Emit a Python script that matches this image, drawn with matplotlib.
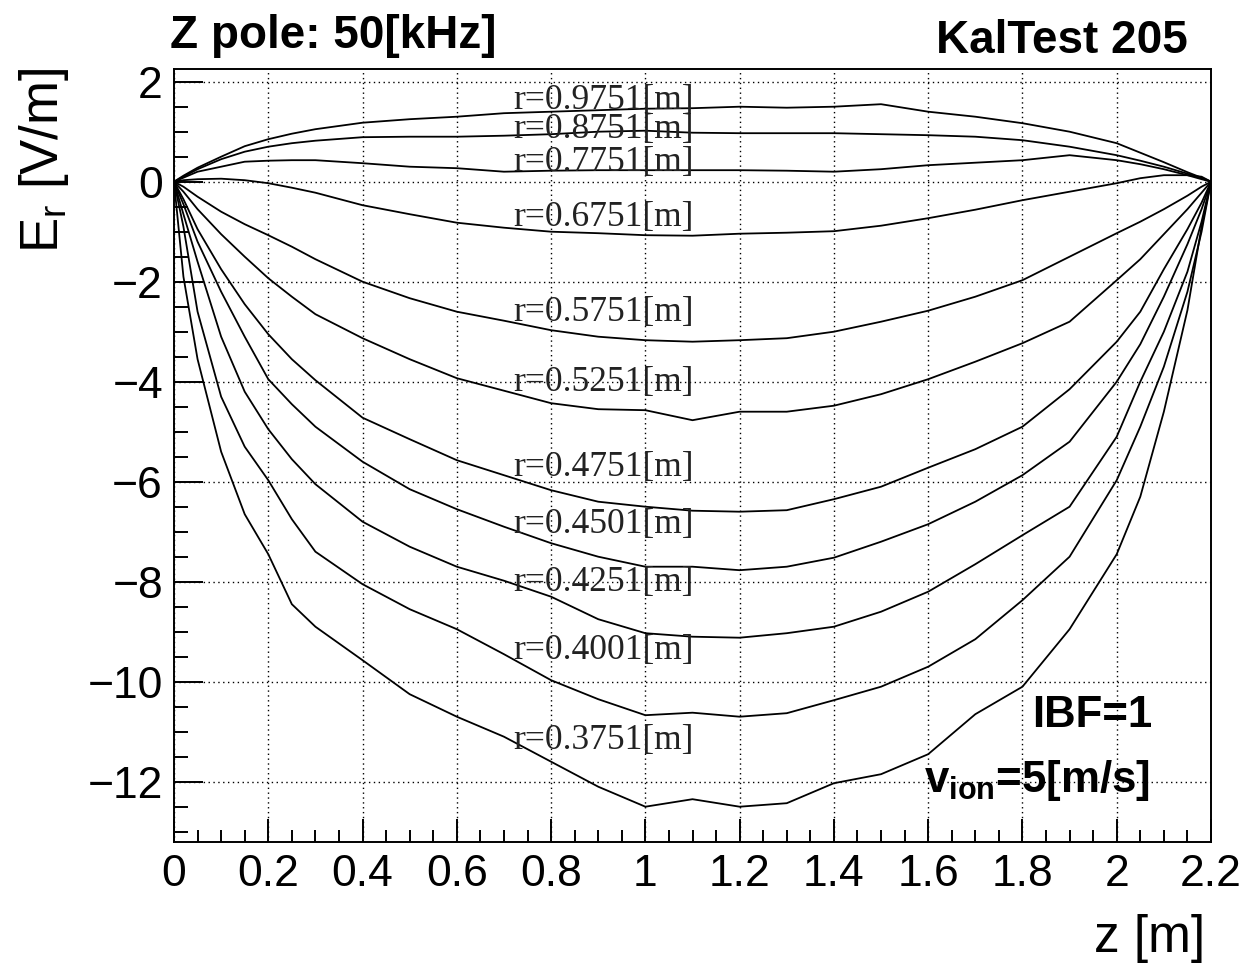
#!/usr/bin/env python3
"""
plot.py
Radial field E_r vs z for several radii (Z pole 50 kHz, IBF=1, v_ion=5 m/s).
Writes out.png
"""

import matplotlib
matplotlib.use('Agg')
import matplotlib.pyplot as plt
from matplotlib.ticker import MultipleLocator

plt.rcParams['font.family'] = ['Liberation Sans', 'DejaVu Sans']
plt.rcParams['mathtext.fontset'] = 'custom'
plt.rcParams['mathtext.rm'] = 'Liberation Sans'
plt.rcParams['mathtext.bf'] = 'Liberation Sans:bold'

z = [0, 0.02, 0.05, 0.1, 0.15, 0.2, 0.25, 0.3, 0.4, 0.5, 0.6, 0.7, 0.8, 0.9, 1.0,
     1.1, 1.2, 1.3, 1.4, 1.5, 1.6, 1.7, 1.8, 1.9, 2.0, 2.05, 2.1, 2.15, 2.18, 2.2]

# E_r [V/m] for each radius
er_09751 = [0, 0.12, 0.28, 0.5, 0.71, 0.85, 0.96, 1.05, 1.18, 1.25, 1.3, 1.37, 1.4, 1.43, 1.46,
            1.47, 1.5, 1.48, 1.5, 1.55, 1.4, 1.3, 1.17, 1.0, 0.77, 0.58, 0.39, 0.19, 0.08, 0]
er_08751 = [0, 0.1, 0.25, 0.45, 0.6, 0.7, 0.77, 0.82, 0.89, 0.9, 0.9, 0.92, 0.95, 1.0, 1.02,
            0.98, 0.97, 0.97, 0.97, 0.95, 0.93, 0.9, 0.83, 0.7, 0.53, 0.42, 0.3, 0.16, 0.07, 0]
er_07751 = [0, 0.08, 0.2, 0.3, 0.4, 0.42, 0.43, 0.43, 0.37, 0.3, 0.27, 0.2, 0.22, 0.23, 0.23,
            0.23, 0.23, 0.22, 0.2, 0.25, 0.33, 0.38, 0.43, 0.53, 0.43, 0.35, 0.25, 0.13, 0.05, 0]
er_06751 = [0, 0.03, 0.05, 0.06, 0.03, -0.03, -0.12, -0.22, -0.47, -0.65, -0.82, -0.92, -1.0, -1.03, -1.07,
            -1.08, -1.04, -1.02, -0.99, -0.88, -0.73, -0.56, -0.37, -0.2, -0.03, 0.07, 0.13, 0.13, 0.1, 0]
er_05751 = [0, -0.1, -0.3, -0.6, -0.85, -1.07, -1.3, -1.55, -2.0, -2.33, -2.6, -2.78, -2.97, -3.1, -3.17,
            -3.2, -3.17, -3.13, -3.0, -2.8, -2.58, -2.3, -1.97, -1.5, -1.03, -0.8, -0.55, -0.28, -0.1, 0]
er_05251 = [0, -0.2, -0.55, -1.05, -1.5, -1.93, -2.3, -2.65, -3.13, -3.55, -3.93, -4.18, -4.43, -4.55, -4.57,
            -4.77, -4.6, -4.6, -4.48, -4.25, -3.95, -3.6, -3.23, -2.8, -1.97, -1.55, -1.05, -0.55, -0.22, 0]
er_04751 = [0, -0.35, -0.95, -1.75, -2.45, -3.05, -3.55, -3.97, -4.72, -5.15, -5.57, -5.87, -6.17, -6.4, -6.5,
            -6.58, -6.6, -6.57, -6.35, -6.1, -5.72, -5.35, -4.9, -4.15, -3.2, -2.6, -1.75, -0.95, -0.42, 0]
er_04501 = [0, -0.45, -1.2, -2.2, -3.1, -3.95, -4.45, -4.9, -5.6, -6.15, -6.55, -6.9, -7.23, -7.5, -7.7,
            -7.7, -7.77, -7.7, -7.52, -7.2, -6.85, -6.4, -5.87, -5.2, -4.0, -3.25, -2.3, -1.25, -0.55, 0]
er_04251 = [0, -0.65, -1.6, -3.1, -4.2, -4.95, -5.55, -6.05, -6.8, -7.3, -7.7, -7.98, -8.3, -8.75, -9.03,
            -9.1, -9.12, -9.03, -8.9, -8.6, -8.2, -7.65, -7.07, -6.5, -5.1, -4.0, -3.0, -1.8, -0.8, 0]
er_04001 = [0, -0.9, -2.6, -4.3, -5.3, -5.97, -6.75, -7.4, -8.05, -8.55, -8.95, -9.45, -9.97, -10.35, -10.67,
            -10.62, -10.7, -10.63, -10.37, -10.1, -9.7, -9.15, -8.37, -7.5, -5.97, -4.9, -3.7, -2.2, -1.0, 0]
er_03751 = [0, -1.9, -3.55, -5.4, -6.65, -7.45, -8.45, -8.9, -9.57, -10.25, -10.7, -11.1, -11.6, -12.1, -12.5,
            -12.35, -12.5, -12.43, -12.03, -11.85, -11.45, -10.65, -10.1, -8.95, -7.45, -6.3, -4.6, -2.57, -0.9, 0]

radii = ['0.9751', '0.8751', '0.7751', '0.6751', '0.5751', '0.5251',
         '0.4751', '0.4501', '0.4251', '0.4001', '0.3751']
curves = [er_09751, er_08751, er_07751, er_06751, er_05751, er_05251,
          er_04751, er_04501, er_04251, er_04001, er_03751]
# vertical position of each "r=..." label [V/m]
label_y = [1.62, 1.04, 0.38, -0.72, -2.62, -4.02, -5.72, -6.85, -8.02, -9.38, -11.18]
label_z = 0.72


def main():
    fig = plt.figure(figsize=(12.44, 9.63), dpi=100)
    ax = fig.add_axes([174/1244, (963-841.7)/963, (1211-174)/1244, (841.7-69.3)/963])

    for er in curves:
        ax.plot(z, er, color='black', lw=1.3)

    for r, yl in zip(radii, label_y):
        ax.text(label_z, yl, 'r=%s[m]' % r, family='Liberation Serif', fontsize=25.5,
                ha='left', va='center', color='#222222')

    ax.set_xlim(0, 2.2)
    ax.set_ylim(-13.2, 2.248)
    ax.xaxis.set_major_locator(MultipleLocator(0.2))
    ax.xaxis.set_minor_locator(MultipleLocator(0.05))
    ax.yaxis.set_major_locator(MultipleLocator(2))
    ax.yaxis.set_minor_locator(MultipleLocator(0.5))
    ax.set_xticks([0, 0.2, 0.4, 0.6, 0.8, 1, 1.2, 1.4, 1.6, 1.8, 2, 2.2])
    ax.set_xticklabels(['0', '0.2', '0.4', '0.6', '0.8', '1', '1.2', '1.4', '1.6', '1.8', '2', '2.2'])
    ax.grid(True, which='major', color='black', linestyle=(0, (1, 2.5)), lw=1.0)

    ax.tick_params(which='both', direction='in', top=False, right=False, width=1.4, labelsize=32)
    ax.tick_params(axis='y', which='major', length=21, pad=8)
    ax.tick_params(axis='y', which='minor', length=10)
    ax.tick_params(axis='x', which='major', length=16.5, pad=9)
    ax.tick_params(axis='x', which='minor', length=9)
    for s in ax.spines.values():
        s.set_linewidth(1.4)

    ax.text(2.076, -10.9, 'IBF=1', fontsize=31.5, fontweight='bold', ha='right', va='baseline')
    ax.text(2.07, -12.2, r'$\mathbf{v}_{\mathbf{ion}}$=5[m/s]', fontsize=31.5, fontweight='bold',
            ha='right', va='baseline')

    fig.text(170/1244, 1 - 48/963, 'Z pole: 50[kHz]', fontsize=33, fontweight='bold',
             ha='left', va='baseline')
    fig.text(1188/1244, 1 - 53/963, 'KalTest 205', fontsize=33, fontweight='bold',
             ha='right', va='baseline')
    fig.text(44/1244, 1 - 68/963, r'E$_{\mathrm{r}}$ [V/m]', fontsize=38, rotation=90,
             ha='center', va='top')
    fig.text(1205/1244, 1 - 952/963, 'z [m]', fontsize=37, ha='right', va='baseline')

    fig.savefig('out.png', dpi=100)


if __name__ == '__main__':
    main()
